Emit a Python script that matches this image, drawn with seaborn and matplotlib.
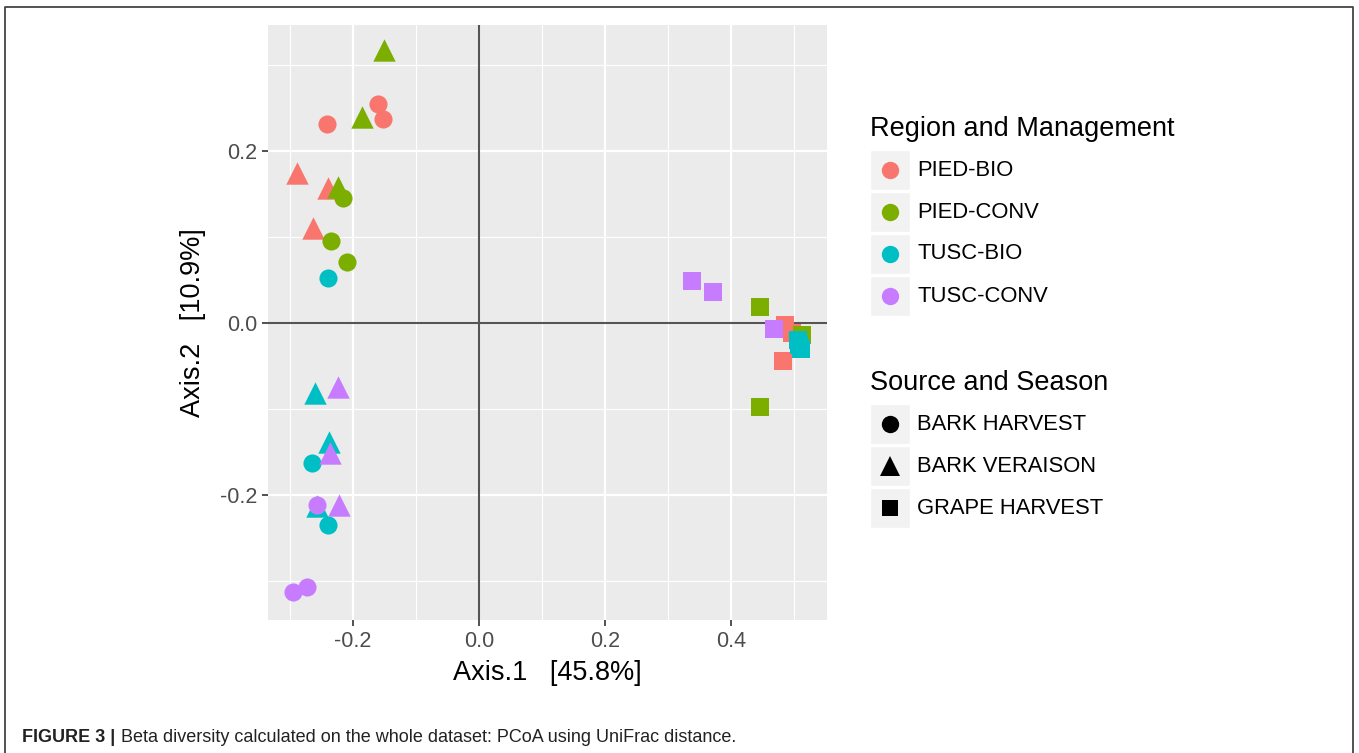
import matplotlib
matplotlib.use("Agg")
import matplotlib.pyplot as plt
from matplotlib.patches import Rectangle
from matplotlib.lines import Line2D
import seaborn as sns
import pandas as pd

# PCoA coordinates (UniFrac), one row per sample
axis1 = [
    -0.160, -0.152, -0.241, -0.289, -0.240, -0.263, 0.486, 0.497, 0.482,
    -0.216, -0.235, -0.210, -0.151, -0.186, -0.224, 0.445, 0.513, 0.445,
    -0.240, -0.265, -0.240, -0.260, -0.238, -0.257, 0.506, 0.510, 0.508,
    -0.257, -0.273, -0.295, -0.224, -0.237, -0.222, 0.338, 0.371, 0.468,
]
axis2 = [
    0.255, 0.237, 0.231, 0.174, 0.157, 0.110, -0.002, -0.011, -0.044,
    0.146, 0.095, 0.071, 0.317, 0.239, 0.158, 0.019, -0.014, -0.097,
    0.052, -0.162, -0.235, -0.081, -0.138, -0.213, -0.020, -0.030, -0.025,
    -0.211, -0.307, -0.313, -0.074, -0.151, -0.211, 0.049, 0.036, -0.007,
]
regions = ["PIED-BIO", "PIED-CONV", "TUSC-BIO", "TUSC-CONV"]
sources = ["BARK HARVEST", "BARK VERAISON", "GRAPE HARVEST"]
region = [r for r in regions for _ in range(9)]
source = [s for _ in regions for s in sources for _ in range(3)]

palette = ["#F8766D", "#7CAE00", "#00BFC4", "#C77CFF"]
markers = {"BARK HARVEST": "o", "BARK VERAISON": "^", "GRAPE HARVEST": "s"}
msizes = {"BARK HARVEST": 170, "BARK VERAISON": 260, "GRAPE HARVEST": 165}

df = pd.DataFrame({"Axis.1": axis1, "Axis.2": axis2,
                   "Region": region, "Source": source})

sns.set_theme(style="white")
plt.rcParams["font.family"] = ["Liberation Sans", "DejaVu Sans"]

W, H = 1359, 753
fig = plt.figure(figsize=(W / 100, H / 100), dpi=100)
ax = fig.add_axes([268 / W, 1 - 620 / H, (827 - 268) / W, (620 - 25) / H])
ax.set_facecolor("#EBEBEB")

# gridlines (ggplot grey theme)
for v in [-0.3, -0.1, 0.1, 0.3, 0.5]:
    ax.axvline(v, color="white", lw=0.8, zorder=0)
for v in [-0.2, 0.0, 0.2, 0.4]:
    ax.axvline(v, color="white", lw=1.6, zorder=0)
for v in [-0.3, -0.1, 0.1, 0.3]:
    ax.axhline(v, color="white", lw=0.8, zorder=0)
for v in [-0.2, 0.0, 0.2]:
    ax.axhline(v, color="white", lw=1.6, zorder=0)

# zero reference lines
ax.axhline(0, color="#555555", lw=1.5, zorder=1)
ax.axvline(0, color="#555555", lw=1.5, zorder=1)

for reg, col in zip(regions, palette):
    for src in sources:
        sub = df[(df["Region"] == reg) & (df["Source"] == src)]
        sns.scatterplot(data=sub, x="Axis.1", y="Axis.2", color=col,
                        marker=markers[src], s=msizes[src], linewidth=0,
                        legend=False, ax=ax, zorder=3)

ax.set_xlim(-0.335, 0.552)
ax.set_ylim(-0.345, 0.3465)
ax.set_xticks([-0.2, 0.0, 0.2, 0.4])
ax.set_xticklabels(["-0.2", "0.0", "0.2", "0.4"])
ax.set_yticks([-0.2, 0.0, 0.2])
ax.set_yticklabels(["-0.2", "0.0", "0.2"])
ax.tick_params(axis="both", length=4, width=1.2, color="#333333",
               labelsize=15.5, labelcolor="#4D4D4D", pad=4,
               bottom=True, left=True)
for sp in ax.spines.values():
    sp.set_visible(False)
ax.set_xlabel("Axis.1   [45.8%]", fontsize=19.5, color="black", labelpad=6)
ax.set_ylabel("Axis.2   [10.9%]", fontsize=19.5, color="black", labelpad=10)

# legends
def legend_block(title, title_y, labels, handles):
    fig.text(870 / W, 1 - title_y / H, title, fontsize=19.5,
             va="center", ha="left", color="black")
    for i, (lab, hnd) in enumerate(zip(labels, handles)):
        cy = title_y + 41 + 42 * i
        fig.add_artist(Rectangle((870 / W, 1 - (cy + 20) / H), 40 / W, 40 / H,
                                 transform=fig.transFigure,
                                 facecolor="#F2F2F2", edgecolor="white", lw=1))
        mk, col, ms = hnd
        fig.add_artist(Line2D([890 / W], [1 - cy / H], transform=fig.transFigure,
                              marker=mk, color=col, markersize=ms, lw=0,
                              markeredgewidth=0))
        fig.text(917 / W, 1 - cy / H, lab, fontsize=15.8, va="center",
                 ha="left", color="black")

legend_block("Region and Management", 129, regions,
             [("o", c, 12.5) for c in palette])
legend_block("Source and Season", 383, sources,
             [("o", "black", 12.5), ("^", "black", 15), ("s", "black", 12)])

# outer frame
fig.add_artist(Line2D([5 / W, 5 / W, 1353 / W, 1353 / W],
                      [0, 1 - 7 / H, 1 - 7 / H, 0],
                      transform=fig.transFigure, color="#444444", lw=1.3))

# caption
fig.text(22 / W, 1 - 737 / H, "FIGURE 3 |", fontsize=13, fontweight="bold",
         va="center", ha="left", color="#222222")
fig.text(121 / W, 1 - 737 / H,
         "Beta diversity calculated on the whole dataset: PCoA using UniFrac distance.",
         fontsize=13, va="center", ha="left", color="#222222")

fig.savefig("out.png", dpi=100)
